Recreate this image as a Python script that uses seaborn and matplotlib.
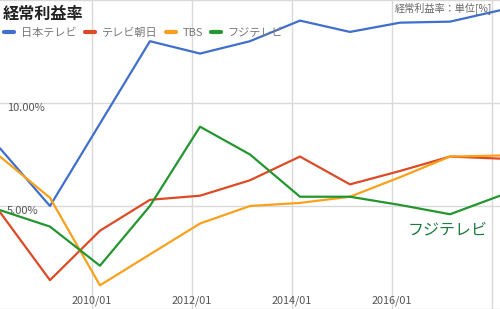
"""
経常利益率 line chart: four Japanese broadcasters, yearly (March) values.
"""

import pandas as pd
import matplotlib.pyplot as plt
import matplotlib.dates as mdates
import seaborn as sns

OUTPUT_FILEPATH = "out.png"

# Data (% values)
YEARS = [2008, 2009, 2010, 2011, 2012, 2013, 2014, 2015, 2016, 2017, 2018]
COMPANIES = ["日本テレビ", "テレビ朝日", "TBS", "フジテレビ"]
NTV = [7.8, 5.0, 9.0, 13.0, 12.4, 13.0, 14.0, 13.45, 13.9, 13.95, 14.5]
TV_ASAHI = [4.7, 1.4, 3.8, 5.3, 5.5, 6.25, 7.4, 6.05, 6.7, 7.4, 7.3]
TBS = [7.4, 5.4, 1.15, 2.65, 4.15, 5.0, 5.15, 5.45, 6.4, 7.4, 7.45]
FUJI = [4.8, 4.0, 2.1, 5.0, 8.85, 7.5, 5.45, 5.45, 5.05, 4.6, 5.5]
COLORS = ["#3f6fcc", "#dc4a26", "#f9a11b", "#23962f"]

Y_TICKS = [0, 5, 10, 15]
X_TICK_YEARS = [2010, 2012, 2014, 2016]
X_GRID_EXTRA = [2018]

sns.set_theme(style="white")
plt.rcParams["font.family"] = ["Noto Sans CJK JP", "DejaVu Sans"]


def build_frame():
    dates = pd.to_datetime([f"{y}-03-01" for y in YEARS])
    parts = []
    for name, vals in zip(COMPANIES, [NTV, TV_ASAHI, TBS, FUJI]):
        parts.append(pd.DataFrame({"date": dates, "value": vals, "company": name}))
    return pd.concat(parts, ignore_index=True)


def main():
    df = build_frame()

    fig = plt.figure(figsize=(5.0, 3.09), dpi=100)
    ax = fig.add_axes([0, 0, 1, 1])

    sns.lineplot(
        data=df, x="date", y="value", hue="company",
        hue_order=COMPANIES, palette=COLORS, linewidth=1.6, ax=ax,
    )

    ax.set_xlim(pd.Timestamp("2008-03-01"), pd.Timestamp("2018-03-01"))
    ax.set_ylim(0, 15)
    ax.set_xlabel(None)
    ax.set_ylabel(None)

    # grid (2018/01 gridline has no visible label in the cropped reference)
    ax.set_xticks([pd.Timestamp(f"{y}-01-01") for y in X_TICK_YEARS])
    ax.set_xticks([pd.Timestamp(f"{y}-01-01") for y in X_GRID_EXTRA], minor=True)
    ax.xaxis.set_major_formatter(mdates.DateFormatter("%Y/%m"))
    ax.set_yticks(Y_TICKS)
    ax.set_yticklabels([f"{v:.2f}%" if v in (5, 10) else "" for v in Y_TICKS])
    ax.grid(True, which="both", color="#d9d9d9", linewidth=1.0)
    ax.set_axisbelow(True)
    for s in ax.spines.values():
        s.set_visible(False)

    ax.tick_params(axis="x", which="both", length=0, pad=-10, labelsize=7.8,
                   labelcolor="#555555")
    ax.tick_params(axis="y", length=0, pad=-5, labelsize=8, labelcolor="#555555")
    for lbl in ax.get_yticklabels():
        lbl.set_horizontalalignment("left")
        lbl.set_verticalalignment("top")

    # title and unit note
    fig.text(0.006, 0.98, "経常利益率", fontsize=11.6, fontweight="bold",
             color="#222222", ha="left", va="top")
    fig.text(0.985, 0.995, "経常利益率：単位[%]", fontsize=7.3,
             color="#666666", ha="right", va="top")

    # legend row
    leg = ax.legend(
        loc="upper left", bbox_to_anchor=(0.0, 0.925), ncol=4, frameon=False,
        handlelength=0.9, handletextpad=0.6, columnspacing=0.75,
        fontsize=8, borderaxespad=0,
    )
    for line in leg.get_lines():
        line.set_linewidth(3)
    for t in leg.get_texts():
        t.set_color("#777777")

    # label for Fuji TV
    ax.text(pd.Timestamp("2017-02-10"), 3.85, "フジテレビ", fontsize=11.5,
            color="#1b7a3c", ha="center", va="center")

    fig.savefig(OUTPUT_FILEPATH, dpi=100)


if __name__ == "__main__":
    main()
